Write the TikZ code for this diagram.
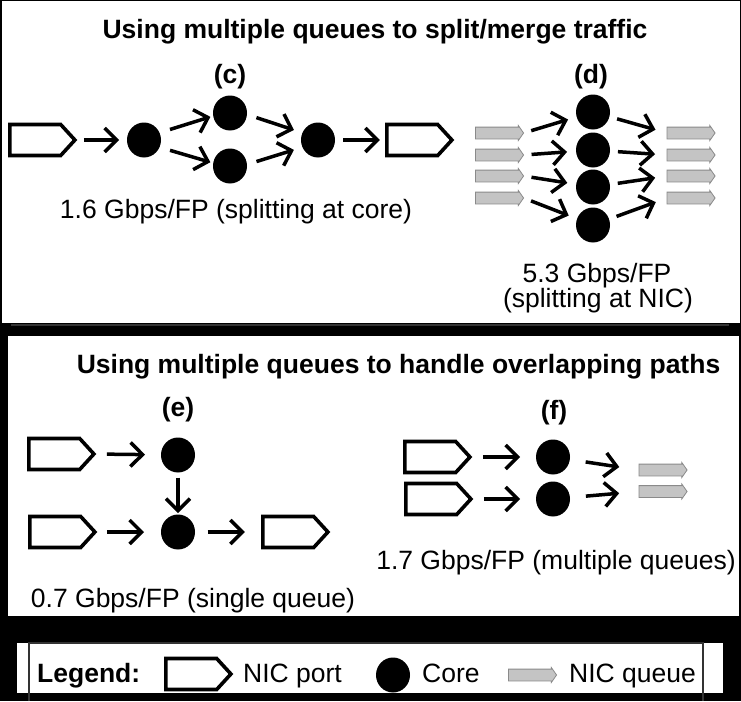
\documentclass[tikz,border=0pt]{standalone}
\usepackage{fontspec}
\setmainfont{Liberation Sans}
\usetikzlibrary{shapes.geometric,shapes.arrows,shapes.symbols,arrows.meta}
\definecolor{qfill}{HTML}{C4C4C4}
\definecolor{qdraw}{HTML}{8A8A8A}
\definecolor{darkline}{HTML}{333333}
\tikzset{
  port/.style={signal, signal to=east, signal pointer angle=95, draw=black, fill=white, line width=3.6pt, minimum width=65pt, minimum height=31pt, inner sep=0pt, outer sep=0pt},
  core/.style={ellipse, fill=black, minimum width=34pt, minimum height=35pt, inner sep=0pt, outer sep=0pt},
  queue/.style={single arrow, draw=qdraw, fill=qfill, line width=0.8pt, minimum height=48pt, inner xsep=0pt, inner ysep=5.5pt, single arrow head extend=1.5pt, single arrow tip angle=110, outer sep=0pt},
  arr/.style={line width=3.5pt, -{Straight Barb[length=12pt,width=24pt]}},
  txt/.style={font=\fontsize{26.5pt}{30pt}\selectfont, inner sep=0pt, anchor=base},
  btxt/.style={txt, font=\fontsize{26.5pt}{30pt}\selectfont\bfseries},
}
\begin{document}
\begin{tikzpicture}[x=1pt,y=-1pt]
\useasboundingbox (0,0) rectangle (741,701);
\fill[black] (0,0) rectangle (741,701);
\fill[white] (2,1) rectangle (740,323);
\fill[darkline] (11,323.5) rectangle (729,325.5);
\fill[white] (8,336) rectangle (739,616);
\fill[white] (17,643) rectangle (723,693);
\draw[darkline, line width=1.5pt] (29,701) -- (29,643) -- (703,643) -- (703,701);

% ---------- top panel ----------
\node[btxt] (t1) at (375,38) {Using multiple queues to split/merge traffic};
\node[btxt] (lc) at (230,83) {(c)};
\node[btxt] (ld) at (591,83) {(d)};

\node[port] (pa) at (35.3,140) {};
\node[core] (ca) at (144,140) {};
\node[core] (cb) at (230,113) {};
\node[core] (cc) at (230,166) {};
\node[core] (cd) at (318,140) {};
\node[port] (pb) at (412.3,140) {};
\draw[arr, shorten <=9pt, shorten >=8pt] (pa.east) -- (ca);
\draw[arr, shorten <=11pt, shorten >=3pt] (ca.25) -- (cb.190);
\draw[arr, shorten <=11pt, shorten >=3pt] (ca.-25) -- (cc.170);
\draw[arr, shorten <=10pt, shorten >=9pt] (cb.-5) -- (cd.155);
\draw[arr, shorten <=10pt, shorten >=9pt] (cc.5) -- (cd.205);
\draw[arr, shorten <=8pt, shorten >=7pt] (cd) -- (pb.west);
\node[txt] (r1) at (236,218) {1.6 Gbps/FP (splitting at core)};

\node[core] (d1) at (593,112) {};
\node[core] (d2) at (593,150) {};
\node[core] (d3) at (593,187) {};
\node[core] (d4) at (593,225) {};
\node[queue] (ql1) at (497.5,133) {};
\node[queue] (ql2) at (497.5,155) {};
\node[queue] (ql3) at (497.5,176) {};
\node[queue] (ql4) at (497.5,198) {};
\node[queue] (qr1) at (689,133) {};
\node[queue] (qr2) at (689,155) {};
\node[queue] (qr3) at (689,176) {};
\node[queue] (qr4) at (689,198) {};
\foreach \i in {1,2,3,4}{
  \draw[arr, shorten <=8pt, shorten >=9pt] (ql\i.east) -- (d\i);
  \draw[arr, shorten <=8pt, shorten >=12pt] (d\i) -- (qr\i.west);
}
\node[txt] (r2a) at (597,282) {5.3 Gbps/FP};
\node[txt] (r2b) at (598,307) {(splitting at NIC)};

% ---------- lower panel ----------
\node[btxt] (t2) at (398.5,373) {Using multiple queues to handle overlapping paths};
\node[btxt] (le) at (178,416) {(e)};
\node[btxt] (lf) at (554,419) {(f)};

\node[port] (pe1) at (54.3,454) {};
\node[port] (pe2) at (55.3,532) {};
\node[port] (pe3) at (288.3,532) {};
\node[core] (ce1) at (178,455) {};
\node[core] (ce2) at (178,532) {};
\draw[arr, shorten <=13pt, shorten >=16pt] (pe1.east) -- (ce1);
\draw[arr, shorten <=12pt, shorten >=17pt] (pe2.east) -- (ce2);
\draw[arr, shorten <=12.5pt, shorten >=18pt] (ce2) -- (pe3.west);
\draw[arr, shorten <=5pt, shorten >=1.5pt] (ce1) -- (ce2);
\node[txt] (r4) at (193,607) {0.7 Gbps/FP (single queue)};

\node[port] (pf1) at (430.3,457) {};
\node[port] (pf2) at (431.3,499) {};
\node[core] (cf1) at (553,457) {};
\node[core] (cf2) at (553,499) {};
\node[queue] (qf1) at (661,470) {};
\node[queue] (qf2) at (661,491.5) {};
\draw[arr, shorten <=13pt, shorten >=16pt] (pf1.east) -- (cf1);
\draw[arr, shorten <=13pt, shorten >=16pt] (pf2.east) -- (cf2);
\draw[arr, shorten <=16pt, shorten >=20pt] (cf1) -- (qf1.west);
\draw[arr, shorten <=16pt, shorten >=20pt] (cf2) -- (qf2.west);
\node[txt] (r3) at (556,569) {1.7 Gbps/FP (multiple queues)};

% ---------- legend ----------
\node[btxt, anchor=base west] (lg) at (37,682) {Legend:};
\node[port] (lp) at (191.3,674) {};
\node[txt, anchor=base west] (lpt) at (243,682) {NIC port};
\node[core] (lco) at (393,675) {};
\node[txt, anchor=base west] (lct) at (422,682) {Core};
\node[queue] (lq) at (530.5,675) {};
\node[txt, anchor=base west] (lqt) at (569,682) {NIC queue};
\end{tikzpicture}
\end{document}
